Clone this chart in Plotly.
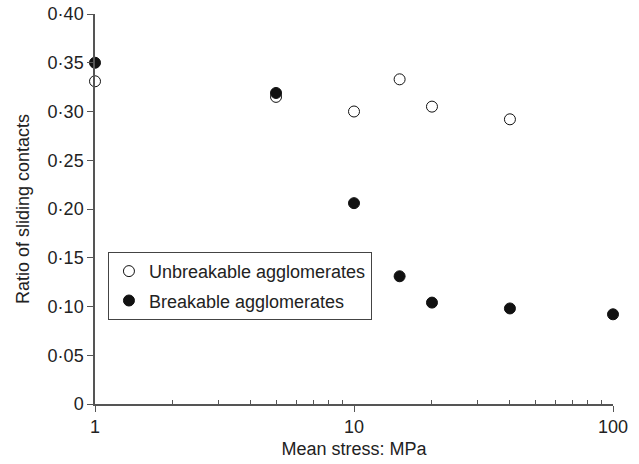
import plotly.graph_objects as go

stress_unbreak = [1, 5, 10, 15, 20, 40]
ratio_unbreak = [0.331, 0.315, 0.300, 0.333, 0.305, 0.292]
stress_break = [1, 5, 10, 15, 20, 40, 100]
ratio_break = [0.350, 0.319, 0.206, 0.131, 0.104, 0.098, 0.092]

y_tickvals = [0, 0.05, 0.10, 0.15, 0.20, 0.25, 0.30, 0.35, 0.40]
y_ticktext = ["0", "0·05", "0·10", "0·15", "0·20", "0·25", "0·30", "0·35", "0·40"]
x_tickvals = [1, 10, 100]
x_ticktext = ["1", "10", "100"]
x_minor = [2, 3, 4, 5, 6, 7, 8, 9, 20, 30, 40, 50, 60, 70, 80, 90]

fig = go.Figure()
fig.add_trace(go.Scatter(
    x=stress_unbreak, y=ratio_unbreak, mode="markers",
    name="Unbreakable agglomerates", legendgroup="a",
    marker=dict(size=11, color="white", line=dict(color="#111", width=1)),
    cliponaxis=False))
fig.add_trace(go.Scatter(
    x=stress_break, y=ratio_break, mode="markers",
    name="Breakable agglomerates", legendgroup="b",
    marker=dict(size=11, color="#111", line=dict(color="#111", width=1)),
    cliponaxis=False))

axcol = "#555"
fig.update_layout(
    width=639, height=464,
    margin=dict(l=95, r=26, t=14, b=60, autoexpand=False),
    paper_bgcolor="white", plot_bgcolor="white",
    font=dict(family="Liberation Sans, Arial, sans-serif", size=18, color="#222"),
    showlegend=True,
    legend=dict(x=0.025, y=0.39, xanchor="left", yanchor="top",
                bordercolor="#444", borderwidth=1, bgcolor="white",
                font=dict(size=18), itemsizing="trace", traceorder="grouped",
                tracegroupgap=3),
    xaxis=dict(type="log", range=[0, 2], tickvals=x_tickvals, ticktext=x_ticktext,
               automargin=False,
               showgrid=False, zeroline=False, showline=True, linecolor=axcol, linewidth=1.5,
               ticks="outside", ticklen=6, tickcolor=axcol, tickfont=dict(size=18),
               minor=dict(tickvals=x_minor, ticks="inside", ticklen=4, tickcolor=axcol, showgrid=False),
               title=dict(text="Mean stress: MPa", standoff=6, font=dict(size=18))),
    yaxis=dict(range=[0, 0.40], tickvals=y_tickvals, ticktext=y_ticktext,
               automargin=False,
               showgrid=False, zeroline=False, showline=True, linecolor=axcol, linewidth=1.5,
               ticks="outside", ticklen=6, tickcolor=axcol, tickfont=dict(size=18),
               title=dict(text="Ratio of sliding contacts", standoff=13, font=dict(size=18))),
)

fig.write_html("out.html", config={"displayModeBar": False},
               post_script="document.body.style.margin='0';")
